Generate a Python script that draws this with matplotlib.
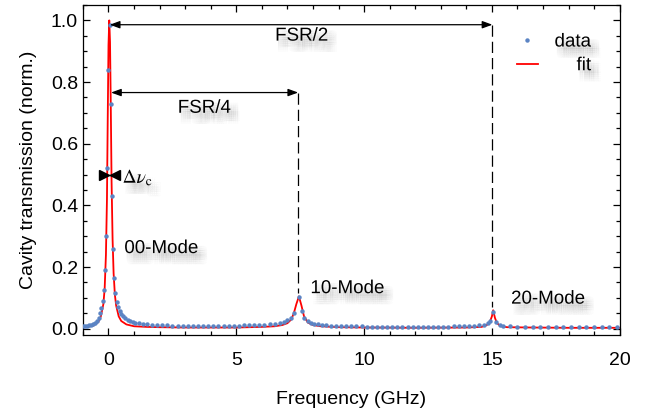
import matplotlib
matplotlib.use("Agg")
import matplotlib.pyplot as plt
import matplotlib.patheffects as pe
from matplotlib.transforms import ScaledTranslation
from matplotlib.ticker import MultipleLocator

data_x = [-1.0, -0.92, -0.84, -0.76, -0.68, -0.60, -0.52, -0.45, -0.39,
          -0.33, -0.28, -0.22, -0.18, -0.13, -0.09, -0.05, 0.0, 0.04, 0.09,
          0.13, 0.18, 0.22, 0.27, 0.32, 0.38, 0.44, 0.50, 0.58, 0.66, 0.75,
          0.85, 0.95, 1.05, 1.2, 1.35, 1.5, 1.7, 1.9, 2.1, 2.3, 2.5, 2.7,
          2.9, 3.1, 3.3, 3.5, 3.7, 3.9, 4.1, 4.3, 4.5, 4.7, 4.9, 5.1, 5.3,
          5.5, 5.7, 5.9, 6.1, 6.3, 6.5, 6.7, 6.85, 7.0, 7.14, 7.27, 7.44,
          7.56, 7.66, 7.79, 7.92, 8.05, 8.2, 8.35, 8.5, 8.7, 8.9, 9.1, 9.3,
          9.5, 9.7, 9.9, 10.1, 10.3, 10.5, 10.7, 10.9, 11.1, 11.3, 11.5,
          11.7, 11.9, 12.1, 12.3, 12.5, 12.7, 12.9, 13.1, 13.3, 13.5, 13.7,
          13.9, 14.1, 14.3, 14.5, 14.7, 14.85, 14.93, 15.05, 15.17, 15.3,
          15.45, 15.7, 16.0, 16.3, 16.6, 16.9, 17.2, 17.5, 17.8, 18.1, 18.4,
          18.7, 19.0, 19.3, 19.6, 19.9]
data_y = [0.008, 0.009, 0.010, 0.011, 0.013, 0.016, 0.020, 0.026, 0.036,
          0.051, 0.067, 0.090, 0.126, 0.190, 0.300, 0.520, 0.840, 0.985, 0.730,
          0.430, 0.260, 0.166, 0.115, 0.086, 0.069, 0.057, 0.048, 0.040, 0.034, 0.029,
          0.025, 0.022, 0.019, 0.017, 0.015, 0.014, 0.013, 0.012, 0.011, 0.011, 0.010, 0.010,
          0.010, 0.010, 0.009, 0.009, 0.009, 0.009, 0.009, 0.009, 0.010, 0.010, 0.010, 0.010, 0.011,
          0.011, 0.012, 0.012, 0.013, 0.014, 0.016, 0.019, 0.022, 0.027, 0.035, 0.050, 0.103,
          0.058, 0.035, 0.024, 0.019, 0.016, 0.014, 0.012, 0.011, 0.010, 0.009, 0.009, 0.008,
          0.008, 0.008, 0.008, 0.007, 0.007, 0.007, 0.007, 0.007, 0.007, 0.007, 0.007,
          0.007, 0.007, 0.007, 0.007, 0.007, 0.007, 0.007, 0.007, 0.007, 0.008, 0.008,
          0.008, 0.009, 0.010, 0.011, 0.013, 0.018, 0.026, 0.054, 0.022, 0.013,
          0.010, 0.008, 0.007, 0.007, 0.006, 0.006, 0.006, 0.006, 0.006, 0.006, 0.006,
          0.006, 0.006, 0.006, 0.006, 0.006]

# fitted curve
fit_x = [-1.0, -0.6, -0.4, -0.3, -0.2, -0.15, -0.1, -0.06, -0.03, 0.0, 0.03,
         0.06, 0.09, 0.12, 0.16, 0.2, 0.25, 0.3, 0.4, 0.5, 0.7, 1.0, 1.5,
         2.0, 3.0, 4.0, 5.0, 6.0, 6.5, 6.8, 7.0, 7.15, 7.25, 7.35, 7.45,
         7.55, 7.65, 7.8, 8.0, 8.3, 9.0, 10.0, 12.0, 14.0, 14.6, 14.8, 14.92,
         15.0, 15.05, 15.12, 15.2, 15.35, 15.6, 16.5, 18.0, 20.0]
fit_y = [0.004, 0.010, 0.022, 0.040, 0.080, 0.130, 0.240, 0.420, 0.680, 0.920, 1.000,
         0.930, 0.720, 0.480, 0.290, 0.180, 0.110, 0.075, 0.040, 0.025, 0.014, 0.008, 0.006,
         0.005, 0.004, 0.004, 0.004, 0.006, 0.008, 0.012, 0.018, 0.030, 0.050, 0.080, 0.105,
         0.075, 0.040, 0.020, 0.012, 0.008, 0.005, 0.004, 0.003, 0.004, 0.006, 0.012, 0.022,
         0.040, 0.060, 0.035, 0.018, 0.008, 0.005, 0.004, 0.003, 0.003]

peak_00 = 0.05
peak_10 = 7.42
peak_20 = 15.02

blue = '#5b84c4'

plt.rcParams['font.family'] = ['Liberation Sans', 'DejaVu Sans']
plt.rcParams['mathtext.fontset'] = 'stix'

fig = plt.figure(figsize=(6.53, 4.15), dpi=100)
ax = fig.add_axes([0.127, 0.193, 0.822, 0.795])

ax.plot(data_x, data_y, 'o', color=blue, ms=3.2, mec='none', label='data', zorder=3)
ax.plot(fit_x, fit_y, color='red', lw=1.3, label='fit', zorder=2)

# free spectral range markers
ax.plot([peak_10, peak_10], [0.766, 0.115], color='black', lw=0.9, ls=(0, (9, 4)))
ax.plot([peak_20, peak_20], [0.986, 0.07], color='black', lw=0.9, ls=(0, (9, 4)))
arr = dict(arrowstyle='<|-|>,head_length=0.6,head_width=0.22', color='black',
           lw=0.9, shrinkA=0, shrinkB=0)
ax.annotate('', xy=(peak_00, 0.986), xytext=(peak_20, 0.986), arrowprops=arr)
ax.annotate('', xy=(peak_00 + 0.05, 0.766), xytext=(peak_10, 0.766), arrowprops=arr)

# linewidth marker
ax.plot([-0.35, 0.43], [0.5, 0.5], color='black', lw=1)
ax.plot([-0.19], [0.5], marker='>', color='black', ms=7)
ax.plot([0.27], [0.5], marker='<', color='black', ms=7)

# soft (blurred) drop shadow behind the labels: many faint offset copies
shadow = []
for dx in (-3, -1.5, 0, 1.5, 3):
    for dy in (-3, -1.5, 0, 1.5, 3):
        shadow.append(pe.SimplePatchShadow(offset=(4 + dx, -5 + dy),
                                           shadow_rgbFace='0.3', alpha=0.02))
shadow.append(pe.Normal())

txt = dict(fontsize=13.5, path_effects=shadow)
ax.text(7.56, 0.949, 'FSR/2', ha='center', va='center', **txt)
ax.text(3.75, 0.715, 'FSR/4', ha='center', va='center', **txt)
ax.text(0.55, 0.49, r'$\Delta\nu_\mathrm{c}$', ha='left', va='center', fontsize=14,
        path_effects=shadow)
ax.text(0.62, 0.26, '00-Mode', ha='left', va='center', **txt)
ax.text(7.9, 0.13, '10-Mode', ha='left', va='center', **txt)
ax.text(15.75, 0.096, '20-Mode', ha='left', va='center', **txt)

ax.set_xlim(-1, 20)
ax.set_ylim(-0.02, 1.05)
ax.xaxis.set_major_locator(MultipleLocator(5))
ax.xaxis.set_minor_locator(MultipleLocator(1))
ax.yaxis.set_major_locator(MultipleLocator(0.2))
ax.yaxis.set_minor_locator(MultipleLocator(0.05))
ax.yaxis.set_major_formatter(matplotlib.ticker.FormatStrFormatter('%.1f'))
ax.tick_params(which='both', direction='in', top=True, right=True, labelsize=14, width=0.9)
ax.tick_params(which='major', length=5)
ax.tick_params(which='minor', length=3)
ax.tick_params(axis='x', which='major', pad=12)
for s in ax.spines.values():
    s.set_linewidth(0.9)

ax.set_xlabel('Frequency (GHz)', fontsize=14, labelpad=16)
ax.set_ylabel('Cavity transmission (norm.)', fontsize=14, labelpad=10)

leg = ax.legend(loc='upper right', bbox_to_anchor=(0.978, 0.965), frameon=False,
                fontsize=13.5, handlelength=1.1, handletextpad=0.9,
                labelspacing=0.35, numpoints=1)
for t in leg.get_texts():
    t.set_path_effects(shadow)

# right-align the legend labels
fig.canvas.draw()
r = fig.canvas.get_renderer()
texts = leg.get_texts()
w = [t.get_window_extent(r).width for t in texts]
wmax = max(w)
for t, wi in zip(texts, w):
    t.set_transform(t.get_transform() + ScaledTranslation((wmax - wi) / fig.dpi, 0, fig.dpi_scale_trans))

fig.savefig('out.png', dpi=100)
